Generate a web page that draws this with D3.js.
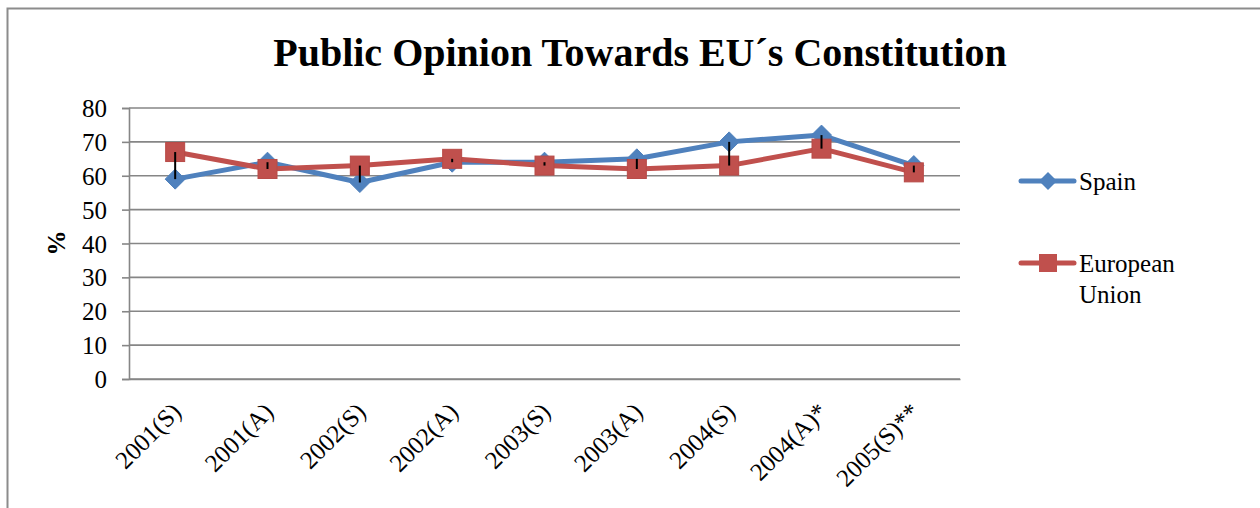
<!DOCTYPE html>
<html>
<head>
<meta charset="utf-8">
<script src="https://cdn.jsdelivr.net/npm/d3@7"></script>
<style>
  html, body { margin: 0; padding: 0; background: #fff; }
  svg { display: block; }
</style>
</head>
<body>
<svg id="chart" width="1260" height="508"></svg>
<script>
const title = "Public Opinion Towards EU\u00B4s Constitution";
const categories = ["2001(S)", "2001(A)", "2002(S)", "2002(A)", "2003(S)", "2003(A)", "2004(S)", "2004(A)*", "2005(S)**"];
const spain = [59, 64, 58, 64, 64, 65, 70, 72, 63];
const europeanUnion = [67, 62, 63, 65, 63, 62, 63, 68, 61];
const yTicks = [0, 10, 20, 30, 40, 50, 60, 70, 80];
const seriesNames = ["Spain", "European Union"];

const SERIF = "'Liberation Serif', 'Times New Roman', Times, serif";
const svg = d3.select("#chart");
const plot = { left: 129, right: 960, top: 108, bottom: 379 };
const blue = "#4F81BD", red = "#C0504D", grid = "#868686";

// outer chart border
svg.append("rect").attr("x", 7.5).attr("y", 8.5).attr("width", 1300).attr("height", 600)
  .attr("fill", "none").attr("stroke", "#8c8c8c").attr("stroke-width", 2);

const x = d3.scaleBand().domain(categories).range([plot.left, plot.right]);
const y = d3.scaleLinear().domain([0, 80]).range([plot.bottom, plot.top]);
const cx = d => x(d) + x.bandwidth() / 2;

// gridlines
svg.append("g").selectAll("line").data(yTicks).join("line")
  .attr("x1", plot.left).attr("x2", plot.right)
  .attr("y1", d => y(d)).attr("y2", d => y(d))
  .attr("stroke", grid).attr("stroke-width", 1.6);

// y axis
const yAxis = svg.append("g").attr("transform", `translate(${plot.left},0)`)
  .call(d3.axisLeft(y).tickValues(yTicks).tickSize(7).tickPadding(15));
yAxis.attr("font-family", null);
yAxis.select(".domain").attr("stroke", grid).attr("stroke-width", 1.6);
yAxis.selectAll(".tick line").attr("stroke", grid).attr("stroke-width", 1.6);
yAxis.selectAll(".tick text").style("font-size", "25px").style("font-family", SERIF).attr("fill", "#000").attr("dy", "0.34em");

// x axis
const xAxis = svg.append("g").attr("transform", `translate(0,${plot.bottom})`)
  .call(d3.axisBottom(x).tickSize(0).tickPadding(0));
xAxis.attr("font-family", null);
xAxis.select(".domain").attr("stroke", grid).attr("stroke-width", 1.6);
xAxis.selectAll(".tick text")
  .style("font-size", "25px").style("font-family", SERIF).attr("fill", "#000")
  .attr("text-anchor", "end")
  .attr("transform", "translate(-5,22) rotate(-45)")
  .attr("dy", "0.7em").attr("y", 0);

// y label
svg.append("text").attr("transform", "translate(65,243) rotate(-90)")
  .attr("text-anchor", "middle").style("font-family", SERIF).style("font-size", "25px")
  .style("font-weight", "bold").text("%");

// title
svg.append("text").attr("x", 640).attr("y", 66).attr("text-anchor", "middle")
  .style("font-family", SERIF).style("font-size", "40px").style("font-weight", "bold").text(title);

const line = d3.line().x((d, i) => cx(categories[i])).y(d => y(d));

// Spain
svg.append("path").datum(spain).attr("d", line).attr("fill", "none")
  .attr("stroke", blue).attr("stroke-width", 5).attr("stroke-linejoin", "round");
const diamond = s => `M0,${-s} L${s},0 L0,${s} L${-s},0 Z`;
svg.append("g").selectAll("path").data(spain).join("path")
  .attr("transform", (d, i) => `translate(${cx(categories[i])},${y(d)})`)
  .attr("d", diamond(10)).attr("fill", blue).attr("stroke", blue).attr("stroke-width", 1);

// EU
svg.append("path").datum(europeanUnion).attr("d", line).attr("fill", "none")
  .attr("stroke", red).attr("stroke-width", 5).attr("stroke-linejoin", "round");
svg.append("g").selectAll("rect").data(europeanUnion).join("rect")
  .attr("x", (d, i) => cx(categories[i]) - 9.5).attr("y", d => y(d) - 9.5)
  .attr("width", 19).attr("height", 19).attr("fill", red).attr("stroke", "#b84a47").attr("stroke-width", 1);

// high-low lines
svg.append("g").selectAll("line").data(categories).join("line")
  .attr("x1", d => cx(d)).attr("x2", d => cx(d))
  .attr("y1", (d, i) => y(Math.max(spain[i], europeanUnion[i])))
  .attr("y2", (d, i) => y(Math.min(spain[i], europeanUnion[i])))
  .attr("stroke", "#000").attr("stroke-width", 2);

// legend
const lg = svg.append("g");
const legendRows = [
  { name: seriesNames[0], color: blue, y: 181, lines: ["Spain"], shape: "diamond" },
  { name: seriesNames[1], color: red, y: 263, lines: ["European", "Union"], shape: "square" }
];
legendRows.forEach(r => {
  lg.append("line").attr("x1", 1021).attr("x2", 1074).attr("y1", r.y).attr("y2", r.y)
    .attr("stroke", r.color).attr("stroke-width", 5).attr("stroke-linecap", "round");
  if (r.shape === "diamond") {
    lg.append("path").attr("transform", `translate(1048,${r.y})`).attr("d", diamond(9)).attr("fill", r.color);
  } else {
    lg.append("rect").attr("x", 1039).attr("y", r.y - 9).attr("width", 18).attr("height", 18).attr("fill", r.color);
  }
  const t = lg.append("text").attr("x", 1079).attr("y", r.y + 8.5)
    .style("font-family", SERIF).style("font-size", "25px").attr("fill", "#000");
  r.lines.forEach((s, k) => t.append("tspan").attr("x", 1079).attr("dy", k === 0 ? 0 : 31).text(s));
});
</script>
</body>
</html>
